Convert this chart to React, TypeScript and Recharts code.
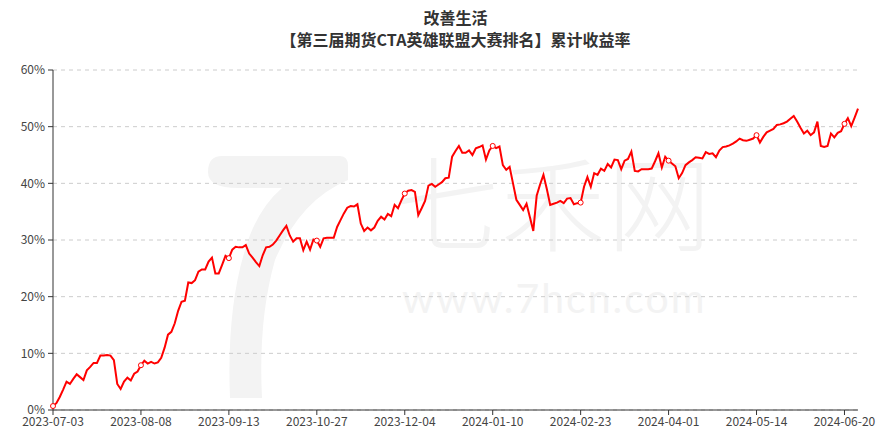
import React from 'react';
import { LineChart, Line, XAxis, YAxis, CartesianGrid } from 'recharts';

// trading days per month (Chinese futures calendar)
const tradingDays: [string, number[]][] = [
  ['2023-07', [3, 4, 5, 6, 7, 10, 11, 12, 13, 14, 17, 18, 19, 20, 21, 24, 25, 26, 27, 28, 31]],
  ['2023-08', [1, 2, 3, 4, 7, 8, 9, 10, 11, 14, 15, 16, 17, 18, 21, 22, 23, 24, 25, 28, 29, 30, 31]],
  ['2023-09', [1, 4, 5, 6, 7, 8, 11, 12, 13, 14, 15, 18, 19, 20, 21, 22, 25, 26, 27, 28]],
  ['2023-10', [9, 10, 11, 12, 13, 16, 17, 18, 19, 20, 23, 24, 25, 26, 27, 30, 31]],
  ['2023-11', [1, 2, 3, 6, 7, 8, 9, 10, 13, 14, 15, 16, 17, 20, 21, 22, 23, 24, 27, 28, 29, 30]],
  ['2023-12', [1, 4, 5, 6, 7, 8, 11, 12, 13, 14, 15, 18, 19, 20, 21, 22, 25, 26, 27, 28, 29]],
  ['2024-01', [2, 3, 4, 5, 8, 9, 10, 11, 12, 15, 16, 17, 18, 19, 22, 23, 24, 25, 26, 29, 30, 31]],
  ['2024-02', [1, 2, 5, 6, 7, 8, 19, 20, 21, 22, 23, 26, 27, 28, 29]],
  ['2024-03', [1, 4, 5, 6, 7, 8, 11, 12, 13, 14, 15, 18, 19, 20, 21, 22, 25, 26, 27, 28, 29]],
  ['2024-04', [1, 2, 3, 8, 9, 10, 11, 12, 15, 16, 17, 18, 19, 22, 23, 24, 25, 26, 29, 30]],
  ['2024-05', [6, 7, 8, 9, 10, 13, 14, 15, 16, 17, 20, 21, 22, 23, 24, 27, 28, 29, 30, 31]],
  ['2024-06', [3, 4, 5, 6, 7, 11, 12, 13, 14, 17, 18, 19, 20, 21, 24, 25, 26]],
];

const dates: string[] = tradingDays.flatMap(([m, days]) =>
  days.map((d) => `${m}-${String(d).padStart(2, '0')}`)
);

// cumulative return, %
const cumReturn = [
  0.7, 1.2, 2.3, 3.6, 5.0, 4.6, 5.5, 6.3, 5.8, 5.3,
  7.0, 7.6, 8.3, 8.3, 9.6, 9.6, 9.7, 9.6, 8.8, 4.6,
  3.7, 5.0, 5.7, 5.2, 6.4, 6.8, 7.9, 8.7, 8.2, 8.5,
  8.2, 8.4, 9.2, 11.0, 13.3, 13.8, 15.3, 17.5, 19.1, 19.3,
  22.5, 22.4, 22.9, 24.4, 24.8, 24.8, 26.2, 26.9, 24.1, 24.1,
  25.6, 27.2, 26.8, 28.3, 28.8, 28.7, 28.7, 29.1, 27.6, 26.9,
  26.1, 25.4, 27.3, 28.7, 28.8, 29.2, 29.9, 30.8, 31.7, 32.5,
  30.8, 29.7, 30.3, 30.3, 28.2, 29.7, 28.3, 30.1, 29.9, 28.8,
  30.3, 30.4, 30.4, 30.4, 32.3, 33.5, 34.7, 35.7, 36.0, 35.9,
  36.3, 32.9, 31.6, 32.2, 31.7, 32.2, 33.4, 34.1, 33.6, 34.6,
  34.2, 36.2, 35.6, 37.0, 38.2, 38.7, 38.8, 38.5, 34.4, 35.6,
  36.9, 39.6, 39.9, 39.4, 39.8, 40.2, 40.9, 41.0, 44.7, 45.7,
  46.6, 45.4, 45.4, 45.8, 45.0, 46.2, 46.4, 46.7, 44.2, 45.8,
  46.6, 46.2, 46.5, 43.2, 42.4, 42.9, 40.0, 37.1, 36.2, 35.3,
  36.4, 34.0, 31.6, 37.8, 39.8, 41.5, 39.0, 36.2, 36.4, 36.6,
  36.9, 36.5, 37.3, 37.4, 36.3, 36.5, 36.6, 39.4, 41.1, 39.4,
  41.8, 41.5, 42.6, 42.2, 43.4, 42.8, 44.2, 44.1, 42.5, 44.0,
  44.3, 45.6, 42.2, 42.1, 42.5, 42.5, 42.5, 42.6, 43.9, 45.3,
  42.8, 44.7, 44.0, 43.5, 43.0, 40.9, 41.8, 43.2, 43.7, 44.1,
  44.6, 44.5, 44.4, 45.5, 45.2, 45.3, 44.6, 45.8, 46.4, 46.5,
  46.7, 47.0, 47.4, 47.9, 47.6, 47.5, 47.7, 47.9, 48.5, 47.2,
  48.2, 49.0, 49.3, 49.6, 50.3, 50.4, 50.6, 50.9, 51.4, 51.9,
  50.9, 49.8, 48.8, 49.3, 48.5, 49.0, 50.9, 46.6, 46.4, 46.6,
  48.8, 48.1, 48.9, 49.2, 50.5, 51.5, 50.1, 51.6, 53.2,
];

const yTicks = [0, 10, 20, 30, 40, 50, 60];
const tickEvery = 26;

const data = dates.map((date, i) => ({ date, value: cumReturn[i] }));

const font = '"Noto Sans CJK SC", "Noto Sans", sans-serif';

const TickDot = (props: any) => {
  const { cx, cy, index } = props;
  if (index % tickEvery !== 0) return <g key={index} />;
  return <circle key={index} cx={cx} cy={cy} r={2.5} fill="#fff" stroke="#ff0000" strokeWidth={1} />;
};

export default function App() {
  return (
    <div style={{ position: 'absolute', left: 0, top: 0, width: 889, height: 436, background: '#fff', fontFamily: font, overflow: 'hidden' }}>
      {/* watermark */}
      <svg width={889} height={436} style={{ position: 'absolute', left: 0, top: 0 }}>
        <path
          d="M222,156 H340 Q348,156 348,166 V180 Q300,200 275,260 Q258,320 262,398 H230 Q226,300 250,235 Q262,205 282,188 H238 Q208,188 208,172 Q208,156 222,156 Z"
          fill="#f3f3f3"
        />
      </svg>
      <div style={{ position: 'absolute', left: 395, top: 147, fontSize: 104, lineHeight: '104px', color: '#f3f3f3', fontWeight: 300, letterSpacing: 2 }}>
        七禾网
      </div>
      <div style={{ position: 'absolute', left: 402, top: 276, fontSize: 41, lineHeight: '44px', color: '#f3f3f3', letterSpacing: 2, fontFamily: 'Lato, sans-serif' }}>
        www.7hcn.com
      </div>
      <div style={{ position: 'absolute', left: 0, width: 911, top: 6, textAlign: 'center', color: '#333', fontWeight: 700, fontSize: 16, lineHeight: '22px' }}>
        改善生活
        <br />
        【第三届期货CTA英雄联盟大赛排名】累计收益率
      </div>
      <div style={{ position: 'absolute', left: 0, top: 0 }}>
        <LineChart width={889} height={436} data={data} margin={{ top: 70, right: 31, left: 8, bottom: 6 }}>
          <CartesianGrid vertical={false} stroke="#ccc" strokeDasharray="4 4" />
          <XAxis
            dataKey="date"
            interval={tickEvery - 1}
            height={20}
            stroke="#333"
            tick={{ fill: '#444', fontSize: 12, fontFamily: font }}
            tickSize={5}
            tickMargin={2}
          />
          <YAxis
            domain={[0, 60]}
            ticks={yTicks}
            tickFormatter={(v) => `${v}%`}
            width={45}
            stroke="#333"
            tick={{ fill: '#444', fontSize: 12, fontFamily: font }}
            tickSize={5}
            tickMargin={3}
          />
          <Line
            type="linear"
            dataKey="value"
            stroke="#ff0000"
            strokeWidth={2}
            dot={TickDot}
            activeDot={false}
            isAnimationActive={false}
          />
        </LineChart>
      </div>
    </div>
  );
}
